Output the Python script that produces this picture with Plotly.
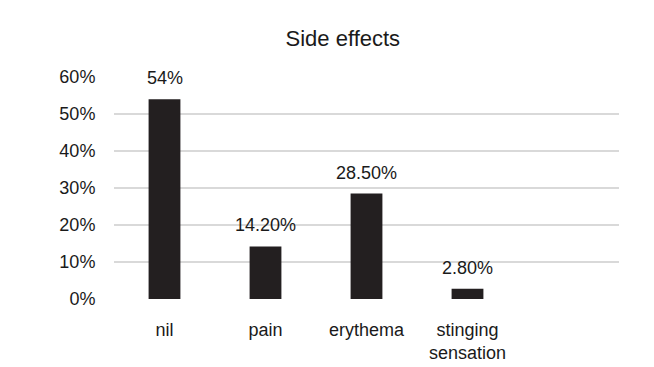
import plotly.graph_objects as go

categories = ["nil", "pain", "erythema", "stinging<br>sensation"]
values = [54.0, 14.2, 28.5, 2.8]
value_labels = ["54%", "14.20%", "28.50%", "2.80%"]
y_ticks = [0, 10, 20, 30, 40, 50, 60]
y_tick_labels = ["0%", "10%", "20%", "30%", "40%", "50%", "60%"]

FONT = "Liberation Sans, Arial, sans-serif"
BAR_COLOR = "#231f20"

fig = go.Figure()
fig.add_trace(go.Bar(
    x=categories, y=values, width=0.315,
    marker=dict(color=BAR_COLOR, line=dict(width=0)),
    hoverinfo="skip",
))

for c, v, t in zip(categories, values, value_labels):
    fig.add_annotation(x=c, y=v, text=t, showarrow=False, yanchor="bottom",
                       yshift=9, font=dict(family=FONT, size=18, color="#1a1a1a"))

fig.update_layout(
    width=654, height=367,
    margin=dict(l=106, r=43, t=69, b=63),
    paper_bgcolor="white", plot_bgcolor="white",
    title=dict(text="Side effects", x=0.512, xanchor="center", y=0.918, yanchor="middle",
               font=dict(family=FONT, size=22, color="#1a1a1a")),
    showlegend=False,
    xaxis=dict(type="category", range=[-0.5, 4.5], showgrid=False, zeroline=False,
               showline=False, ticks="outside", ticklen=14, tickcolor="rgba(0,0,0,0)",
               tickfont=dict(family=FONT, size=18, color="#1a1a1a")),
    yaxis=dict(range=[0, 60], tickvals=y_ticks, ticktext=y_tick_labels,
               showgrid=True, gridcolor="#d9d9d9", gridwidth=1.5, zeroline=False,
               showline=False, ticks="outside", ticklen=14, tickcolor="rgba(0,0,0,0)",
               tickfont=dict(family=FONT, size=18, color="#1a1a1a")),
)

fig.write_html("out.html")
